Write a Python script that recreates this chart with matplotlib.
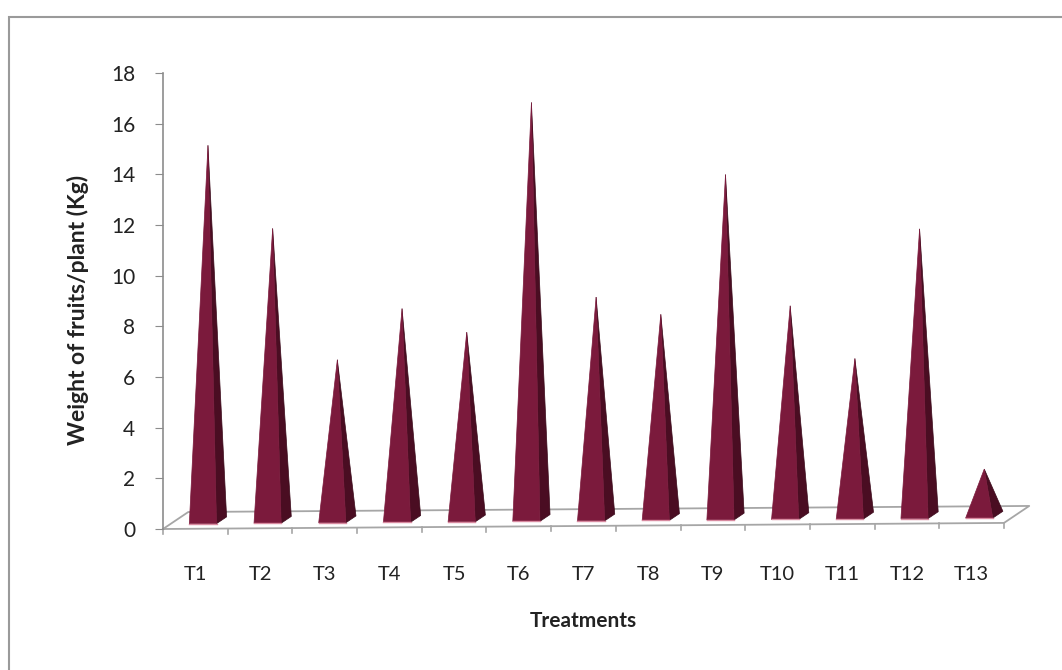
import numpy as np
import matplotlib.pyplot as plt
from matplotlib.patches import Polygon, Rectangle

# values (Kg per plant)
treatments = ['T1', 'T2', 'T3', 'T4', 'T5', 'T6', 'T7', 'T8', 'T9', 'T10', 'T11', 'T12', 'T13']
weight = [14.8, 11.5, 6.3, 8.3, 7.35, 16.4, 8.7, 8.0, 13.5, 8.3, 6.2, 11.3, 1.8]
yticks = [0, 2, 4, 6, 8, 10, 12, 14, 16, 18]

plt.rcParams['font.family'] = ['Lato', 'DejaVu Sans']

fig = plt.figure(figsize=(10.62, 6.70), dpi=100)
ax = fig.add_axes([163 / 1062, 141 / 670, 841 / 1062, 456 / 670])

# outer chart frame
fig.patches.append(Rectangle((9 / 1062, -0.02), 1.05, 1 - 17 / 670 + 0.02,
                             transform=fig.transFigure, fill=False,
                             edgecolor='#9a9a9a', lw=1.5))

n = len(treatments)
x = np.arange(n)

# fake 3d floor: depth vector and slight slope to the right
dx, dy = 0.39, 0.67
slope = 0.24 / n
x0, x1 = -0.5, n - 0.5
fl = lambda xx: slope * (xx - x0)

floor_x = [x0, x1, x1 + dx, x0 + dx, x0]
floor_y = [fl(x0), fl(x1), fl(x1) + dy, fl(x0) + dy, fl(x0)]
ax.plot(floor_x, floor_y, color='#a6a6a6', lw=1.3, clip_on=False, zorder=1)

# ticks on the front floor edge
for b in np.arange(x0, x1 + 0.01, 1.0):
    ax.plot([b, b], [fl(b), fl(b) - 0.2], color='#a6a6a6', lw=1.2, clip_on=False, zorder=1)

# pyramids
hw = 0.21
for xi, v in zip(x, weight):
    base = fl(xi)
    fx, fy = xi + 0.3 * dx, base + 0.3 * dy    # front edge centre
    bx, by = xi + 0.7 * dx, base + 0.7 * dy    # back edge centre
    ax_, ay_ = xi + 0.5 * dx, base + 0.5 * dy + v  # apex
    front = Polygon([(fx - hw, fy), (fx + hw, fy), (ax_, ay_)], closed=True,
                    facecolor='#7b1a3c', edgecolor='#7b1a3c', lw=0.5, zorder=3)
    side = Polygon([(fx + hw, fy), (bx + hw, by), (ax_, ay_)], closed=True,
                   facecolor='#4a0d22', edgecolor='#3a0a1a', lw=0.5, zorder=2)
    ax.add_patch(side)
    ax.add_patch(front)
    ax.plot([fx - hw, fx + hw], [fy, fy], color='#d88aa0', lw=1.0, zorder=4)

ax.set_xlim(x0, x1)
ax.set_ylim(0, 18)
ax.set_yticks(yticks)
ax.set_xticks(x)
ax.set_xticklabels(treatments)

for s in ['top', 'right', 'bottom']:
    ax.spines[s].set_visible(False)
ax.spines['left'].set_color('#8c8c8c')
ax.spines['left'].set_linewidth(1.2)

ax.tick_params(axis='y', direction='out', length=6, color='#8c8c8c', pad=14,
               labelsize=15, labelcolor='#222222')
ax.tick_params(axis='x', length=0, pad=27, labelsize=14.5, labelcolor='#222222')

ax.set_ylabel('Weight of fruits/plant (Kg)', fontsize=16.5, fontweight='bold',
              color='#222222')
ax.set_xlabel('Treatments', fontsize=15, fontweight='bold', color='#222222', labelpad=20)
ax.yaxis.set_label_coords(-74 / 841, 0.48)

fig.savefig('out.png', dpi=100)
